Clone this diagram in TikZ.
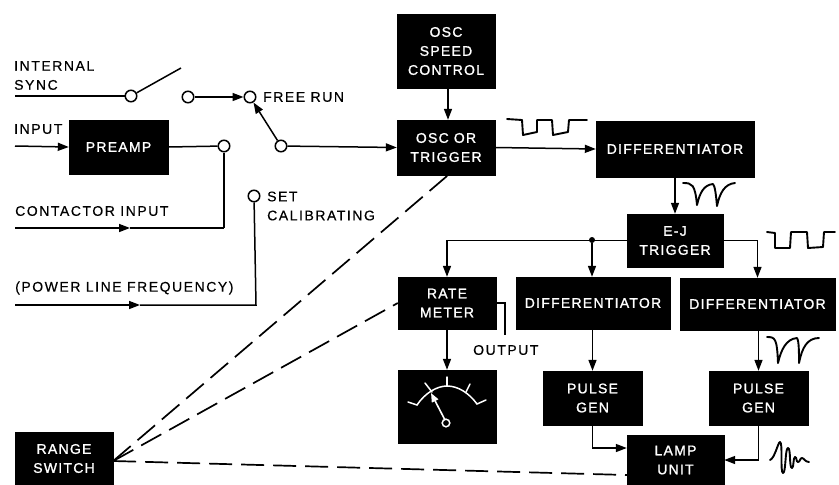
\documentclass[tikz,border=0pt]{standalone}
\usepackage{fontspec}
\setmainfont{Liberation Sans}
\newfontfamily\lblfont[LetterSpace=11,FakeBold=0.4]{Liberation Sans}
\newfontfamily\boxfont[LetterSpace=9,FakeBold=1.2]{Liberation Sans}
\usetikzlibrary{arrows.meta}
\tikzset{
  wire/.style={line width=1.5pt,black},
  arr/.style={wire,-{Stealth[length=11pt,width=8pt,inset=0pt]}},
  dashline/.style={line width=1.7pt,black,dash pattern=on 23pt off 9pt},
  blk/.style={fill=black,draw=black,inner sep=0pt,text=white,align=center,
    font=\boxfont\fontsize{14}{19}\selectfont},
  lbl/.style={anchor=west,inner sep=0pt,align=left,text=black,
    font=\lblfont\fontsize{14}{19}\selectfont},
  term/.style={circle,draw=black,fill=white,line width=1.5pt,minimum size=11.5pt,inner sep=0pt},
  wave/.style={line width=1.9pt,black,line join=round,line cap=round},
  dial/.style={line width=1.5pt,white,line cap=round},
}
\begin{document}
\begin{tikzpicture}[x=1pt,y=-1pt]
\useasboundingbox (0,0) rectangle (839,485);
% boxes
\node[blk,minimum width=98pt,minimum height=74pt] (speed) at (446,51) {OSC\\SPEED\\CONTROL};
\node[blk,minimum width=98pt,minimum height=55pt] (osc) at (446,147.5) {OSC OR\\TRIGGER};
\node[blk,minimum width=158pt,minimum height=56pt] (dtop) at (675,149) {DIFFERENTIATOR};
\node[blk,minimum width=96pt,minimum height=53pt] (ej) at (675,240.5) {E-J\\TRIGGER};
\node[blk,minimum width=98pt,minimum height=52pt] (rate) at (447,303) {RATE\\METER};
\node[blk,minimum width=154pt,minimum height=52pt] (dmid) at (593,303) {DIFFERENTIATOR};
\node[blk,minimum width=155pt,minimum height=52pt] (dright) at (757.5,304) {DIFFERENTIATOR};
\node[blk,minimum width=98pt,minimum height=73pt] (meter) at (447,406.5) {};
\node[blk,minimum width=99pt,minimum height=54pt] (pone) at (592.5,398) {PULSE\\GEN};
\node[blk,minimum width=99pt,minimum height=54pt] (ptwo) at (758.5,398) {PULSE\\GEN};
\node[blk,minimum width=97pt,minimum height=50pt] (lamp) at (675.5,460) {LAMP\\UNIT};
\node[blk,minimum width=98pt,minimum height=53pt] (range) at (64,458.5) {RANGE\\SWITCH};
\node[blk,minimum width=99pt,minimum height=54pt] (preamp) at (118.5,147) {PREAMP};
% labels
\node[lbl] (tsync) at (14,75.5) {INTERNAL\\SYNC};
\node[lbl] (tinput) at (14,129) {INPUT};
\node[lbl] (tcont) at (15,211) {CONTACTOR INPUT};
\node[lbl] (tpower) at (15,288) {(POWER LINE FREQUENCY)};
\node[lbl] (tfree) at (263,97) {FREE RUN};
\node[lbl] (tset) at (267,206) {SET\\CALIBRATING};
\node[lbl] (tout) at (473,350) {OUTPUT};
% free ends and bends
\coordinate (syncin) at (15,96);
\coordinate (bladeend) at (181,68);
\coordinate (inputin) at (15,146);
\coordinate (continn) at (15,228);
\coordinate (contmid) at (130,228);
\coordinate (contcorner) at (224,228);
\coordinate (powin) at (15,305);
\coordinate (powmid) at (140,305);
\coordinate (powcorner) at (256,305);
\coordinate (outend) at (505,335);
% terminals
\node[term] (sa) at (131,96) {};
\node[term] (sb) at (188,97) {};
\node[term] (sc) at (250,97) {};
\node[term] (sd) at (281,146) {};
\node[term] (se) at (224,146) {};
\node[term] (sf) at (254,196) {};
\node[circle,fill=black,minimum size=6pt,inner sep=0pt] (junc) at (592,240) {};
% connectors
\draw[wire] (syncin) -- (sa);
\draw[wire] (sa) -- (bladeend);
\draw[arr] (sb) -- (sc);
\draw[arr] (sd) -- (sc);
\draw[arr] (sd) -- (osc.west);
\draw[arr] (inputin) -- (preamp.west);
\draw[wire] (preamp.east) -- (se);
\draw[wire] (se) -- (contcorner);
\draw[arr] (continn) -- (contmid);
\draw[wire] (contmid) -- (contcorner);
\draw[arr] (powin) -- (powmid);
\draw[wire] (powmid) -- (powcorner) -- (sf);
\draw[arr] ([xshift=2pt]speed.south) -- ([xshift=2pt]osc.north);
\draw[arr] (osc.east) -- (dtop.west);
\draw[arr] (dtop.south) -- (ej.north);
\draw[arr] (ej.west) -| (rate.north);
\draw[arr] (junc) -- (junc |- dmid.north);
\draw[arr] (ej.east) -| (dright.north);
\draw[arr] (rate.south) -- (meter.north);
\draw[wire] (rate.east) -| (outend);
\draw[arr] (dmid.south -| pone.south) -- (pone.north);
\draw[arr] (dright.south -| ptwo.south) -- (ptwo.north);
\draw[arr] (pone.south) |- ([yshift=12pt]lamp.west);
\draw[arr] (ptwo.south) |- (lamp.east);
\draw[dashline] ([yshift=-2.5pt]range.east) -- ([xshift=2pt]osc.south);
\draw[dashline] ([yshift=-2.5pt]range.east) -- (rate.west);
\draw[dashline] ([yshift=-2.5pt]range.east) -- ([yshift=-15pt]lamp.west);
% waveforms
\draw[wave] (507,119) -- (522,120) -- (523,135) -- (537,132) -- (537,120) -- (552,120) -- (553,135) -- (568,132) -- (569,120) -- (587,120);
\draw[wave] (683,183) .. controls (692,183) and (695,184) .. (697,205) .. controls (700,192) and (704,185) .. (713,184) .. controls (715,186) and (716,195) .. (717,206) .. controls (720,192) and (725,184) .. (735,183);
\draw[wave] (767,232) -- (775,233) -- (775,248) -- (790,248) -- (791,232) -- (807,232) -- (808,248) -- (823,247) -- (824,232) -- (835,232);
\draw[wave] (767,337) .. controls (775,337) and (777,338) .. (778,363) .. controls (781,350) and (786,339) .. (797,338) .. controls (799,341) and (799,352) .. (799,363) .. controls (802,348) and (807,338) .. (819,338);
\draw[wave] (770,460) .. controls (775,458) and (778,442) .. (780,442) .. controls (783,442) and (780,473) .. (783,473) .. controls (786,473) and (785,448) .. (788,448) .. controls (791,448) and (789,468) .. (792,468) .. controls (794,468) and (793,457) .. (795,457) .. controls (797,457) and (796,462) .. (798,462) .. controls (800,462) and (800,458) .. (802,458) .. controls (804,458) and (805,462) .. (809,462);
% meter face
\draw[dial] (408,402) -- (417,405) .. controls (425,393) and (437,386) .. (447,386) .. controls (458,386) and (469,393) .. (477,404) -- (486,400);
\draw[dial] (425,383) -- (432,392);
\draw[dial] (447,377) -- (447,386);
\draw[dial] (470,384) -- (466,392);
\draw[line width=1.6pt,white,-{Stealth[length=9pt,width=7pt,inset=0pt]}] (445,420) -- (431,393);
\draw[line width=1.5pt,white] (446,423) circle (3.8pt);
\end{tikzpicture}
\end{document}
